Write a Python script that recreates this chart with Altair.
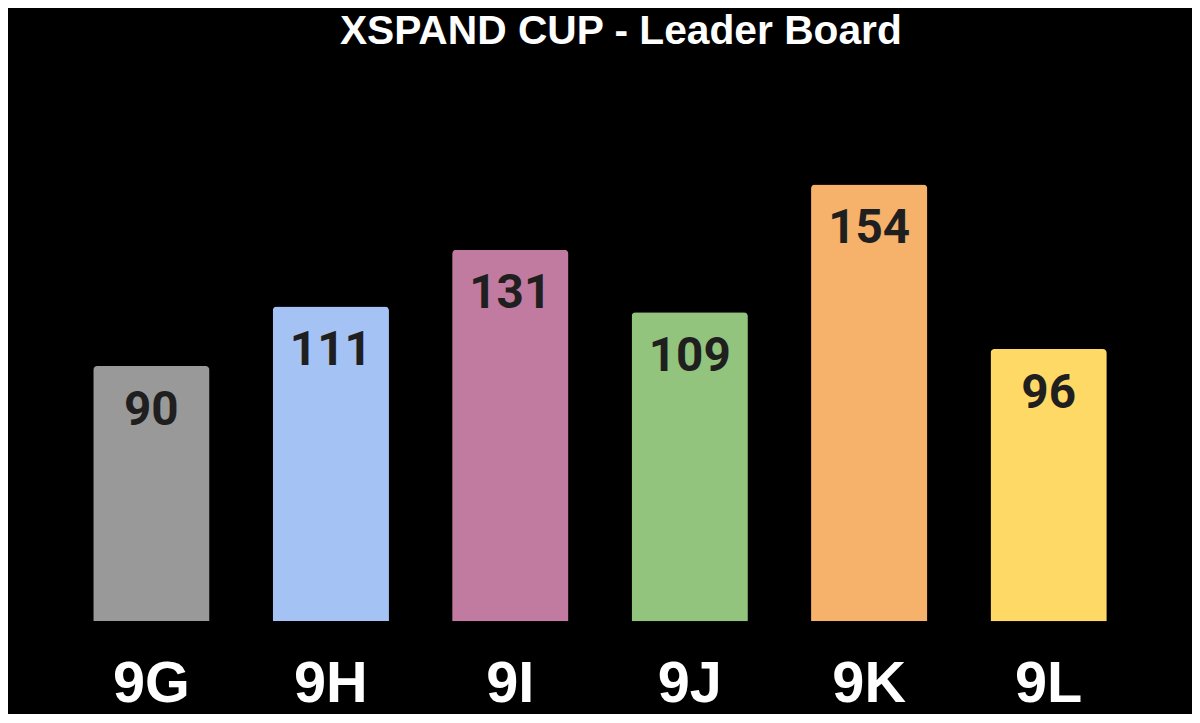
import altair as alt
import pandas as pd

title_text = "XSPAND CUP - Leader Board"
classes = ["9G", "9H", "9I", "9J", "9K", "9L"]
points = [90, 111, 131, 109, 154, 96]
colors = ["#999999", "#a4c2f4", "#c27ba0", "#93c47d", "#f6b26b", "#ffd966"]

df = pd.DataFrame({"cls": classes, "pts": points})

x = alt.X("cls:N", sort=classes, title=None,
          scale=alt.Scale(paddingInner=0.352, paddingOuter=0.176, round=False),
          axis=alt.Axis(labelAngle=0, labelFont="Liberation Sans", labelFontWeight="bold",
                        labelFontSize=58, labelColor="#ffffff", ticks=False, domain=False,
                        labelBaseline="alphabetic", labelPadding=81, grid=False))
y = alt.Y("pts:Q", title=None, scale=alt.Scale(domain=[0, 200], nice=False), axis=None)

bars = alt.Chart(df).mark_bar(cornerRadiusTopLeft=4, cornerRadiusTopRight=4).encode(
    x=x, y=y,
    color=alt.Color("cls:N", scale=alt.Scale(domain=classes, range=colors), legend=None),
)
labels = alt.Chart(df).mark_text(font="Roboto", fontWeight="bold", fontSize=48,
                                 baseline="alphabetic", dy=59, color="#1f1f1f").encode(
    x=alt.X("cls:N", sort=classes), y="pts:Q", text="pts:Q")

title = alt.Chart(pd.DataFrame({"t": [title_text]})).mark_text(
    font="Liberation Sans", fontWeight="bold", fontSize=41, color="#ffffff",
    baseline="alphabetic", align="center").encode(
    text="t:N", x=alt.value(563), y=alt.value(-10))

chart = (bars + labels + title).properties(
    width=1084, height=571,
    autosize=alt.AutoSizeParams(type="none"),
    padding={"left": 54, "top": 44, "right": 54, "bottom": 91},
    background="#000000",
).configure_view(stroke=None)

chart.save("out.html", embed_options={"renderer": "svg", "actions": False})
